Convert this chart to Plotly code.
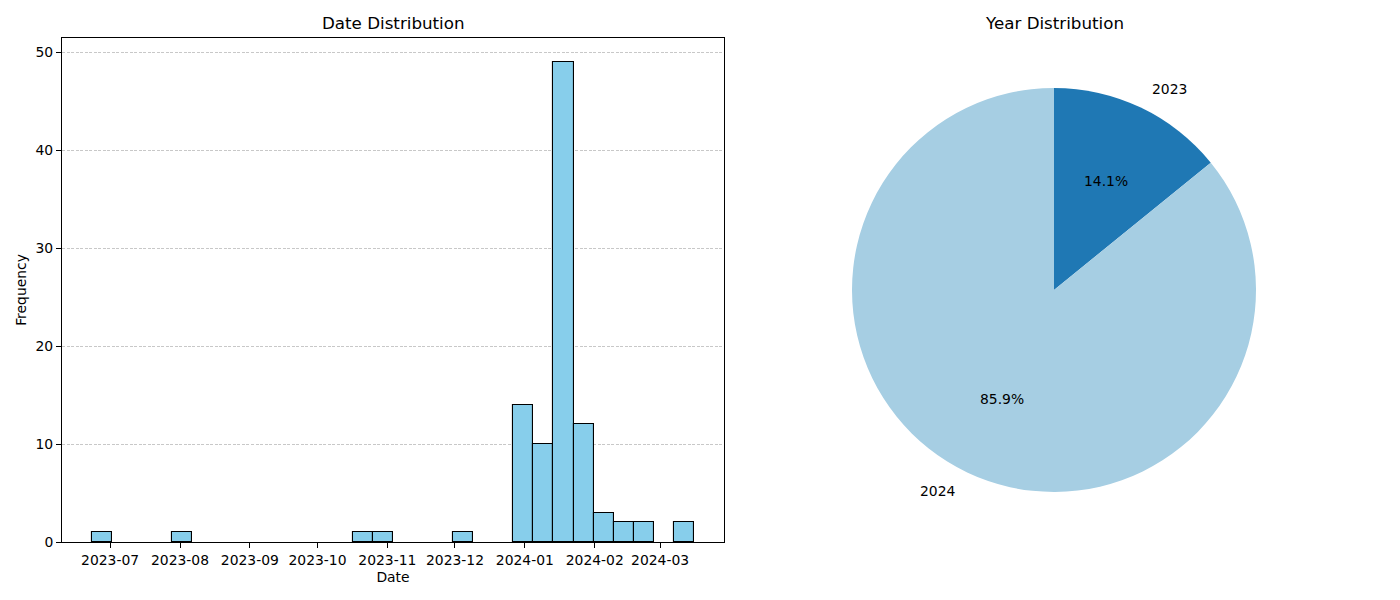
import math
import pandas as pd
import plotly.graph_objects as go

# ---- data ----
first_date = "2023-06-23"
last_date = "2024-03-16"
n_bins = 30
bin_counts = [1, 0, 0, 0, 1, 0, 0, 0, 0, 0,
              0, 0, 0, 1, 1, 0, 0, 0, 1, 0,
              0, 14, 10, 49, 12, 3, 2, 2, 0, 2]
year_labels = ["2023", "2024"]
year_counts = [14, 85]
year_colors = ["#1f78b4", "#a6cee3"]

W, H = 1400, 600
OX, OY = -8, -8  # page offset compensation

start = pd.Timestamp(first_date)
end = pd.Timestamp(last_date)
width = (end - start) / n_bins
centers = [start + width * (i + 0.5) for i in range(n_bins)]
width_ms = width.total_seconds() * 1000
span = end - start
x_range = [start - span * 0.05, end + span * 0.05]
plot_counts = [c if c > 0 else None for c in bin_counts]

fig = go.Figure()
fig.add_trace(go.Bar(
    x=centers, y=plot_counts, width=[width_ms] * n_bins,
    marker=dict(color="#87CEEB", line=dict(color="black", width=1.1)),
    showlegend=False, hoverinfo="x+y",
))


def px_x(v):
    return (v + OX) / W


def px_y(v):
    return 1 - (v + OY) / H


# pie geometry (pixels)
cx, cy, r = 1054, 290, 202
dom_x = [px_x(cx - r), px_x(cx + r)]
dom_y = [px_y(cy + r), px_y(cy - r)]
fig.add_trace(go.Pie(
    labels=year_labels, values=year_counts, sort=False,
    direction="clockwise", rotation=0,
    marker=dict(colors=year_colors, line=dict(width=0)),
    textinfo="none", showlegend=False,
    domain=dict(x=dom_x, y=dom_y),
))

font_fam = "DejaVu Sans"
fs = 13.9
annotations = []
total = sum(year_counts)
acc = 0
for lab, val in zip(year_labels, year_counts):
    mid = (acc + val / 2) / total * 360
    acc += val
    ang = math.radians(90 - mid)
    lx = cx + 1.1 * r * math.cos(ang)
    ly = cy - 1.1 * r * math.sin(ang)
    px = cx + 0.6 * r * math.cos(ang)
    py = cy - 0.6 * r * math.sin(ang)
    annotations.append(dict(
        x=px_x(lx), y=px_y(ly), xref="paper", yref="paper", text=lab,
        showarrow=False, xanchor="left" if lx > cx else "right", yanchor="middle",
        font=dict(size=fs, color="black", family=font_fam)))
    annotations.append(dict(
        x=px_x(px), y=px_y(py), xref="paper", yref="paper",
        text=f"{val / total * 100:.1f}%",
        showarrow=False, xanchor="center", yanchor="middle",
        font=dict(size=fs, color="black", family=font_fam)))

ax_l, ax_r, ax_t, ax_b = 62, 724, 38, 542
annotations.append(dict(x=px_x((ax_l + ax_r) / 2), y=px_y(23), xref="paper", yref="paper",
                        text="Date Distribution", showarrow=False,
                        font=dict(size=16.7, color="black", family=font_fam),
                        xanchor="center", yanchor="middle"))
annotations.append(dict(x=px_x(cx), y=px_y(23), xref="paper", yref="paper",
                        text="Year Distribution", showarrow=False,
                        font=dict(size=16.7, color="black", family=font_fam),
                        xanchor="center", yanchor="middle"))

fig.update_layout(
    width=W, height=H,
    margin=dict(l=0, r=0, t=0, b=0),
    paper_bgcolor="white", plot_bgcolor="white",
    font=dict(family=font_fam, size=fs, color="black"),
    bargap=0,
    annotations=annotations,
    xaxis=dict(
        domain=[px_x(ax_l), px_x(ax_r)], range=x_range, type="date",
        tick0="2023-07-01", dtick="M1", tickformat="%Y-%m",
        ticks="outside", ticklen=5, tickcolor="black", tickwidth=1,
        showline=True, linecolor="black", linewidth=1, mirror=True,
        showgrid=False, zeroline=False, automargin=False,
        title=dict(text="Date", standoff=5, font=dict(size=fs)),
        tickfont=dict(size=fs),
    ),
    yaxis=dict(
        domain=[px_y(ax_b), px_y(ax_t)], range=[0, max(bin_counts) * 1.05],
        tick0=0, dtick=10,
        ticks="outside", ticklen=5, tickcolor="black", tickwidth=1,
        showline=True, linecolor="black", linewidth=1, mirror=True,
        showgrid=True, gridcolor="rgba(176,176,176,0.7)", griddash="3px,1.5px", gridwidth=0.8,
        zeroline=False, automargin=False,
        title=dict(text="Frequency", standoff=5, font=dict(size=fs)),
        tickfont=dict(size=fs),
    ),
)

fig.write_html("out.html")
